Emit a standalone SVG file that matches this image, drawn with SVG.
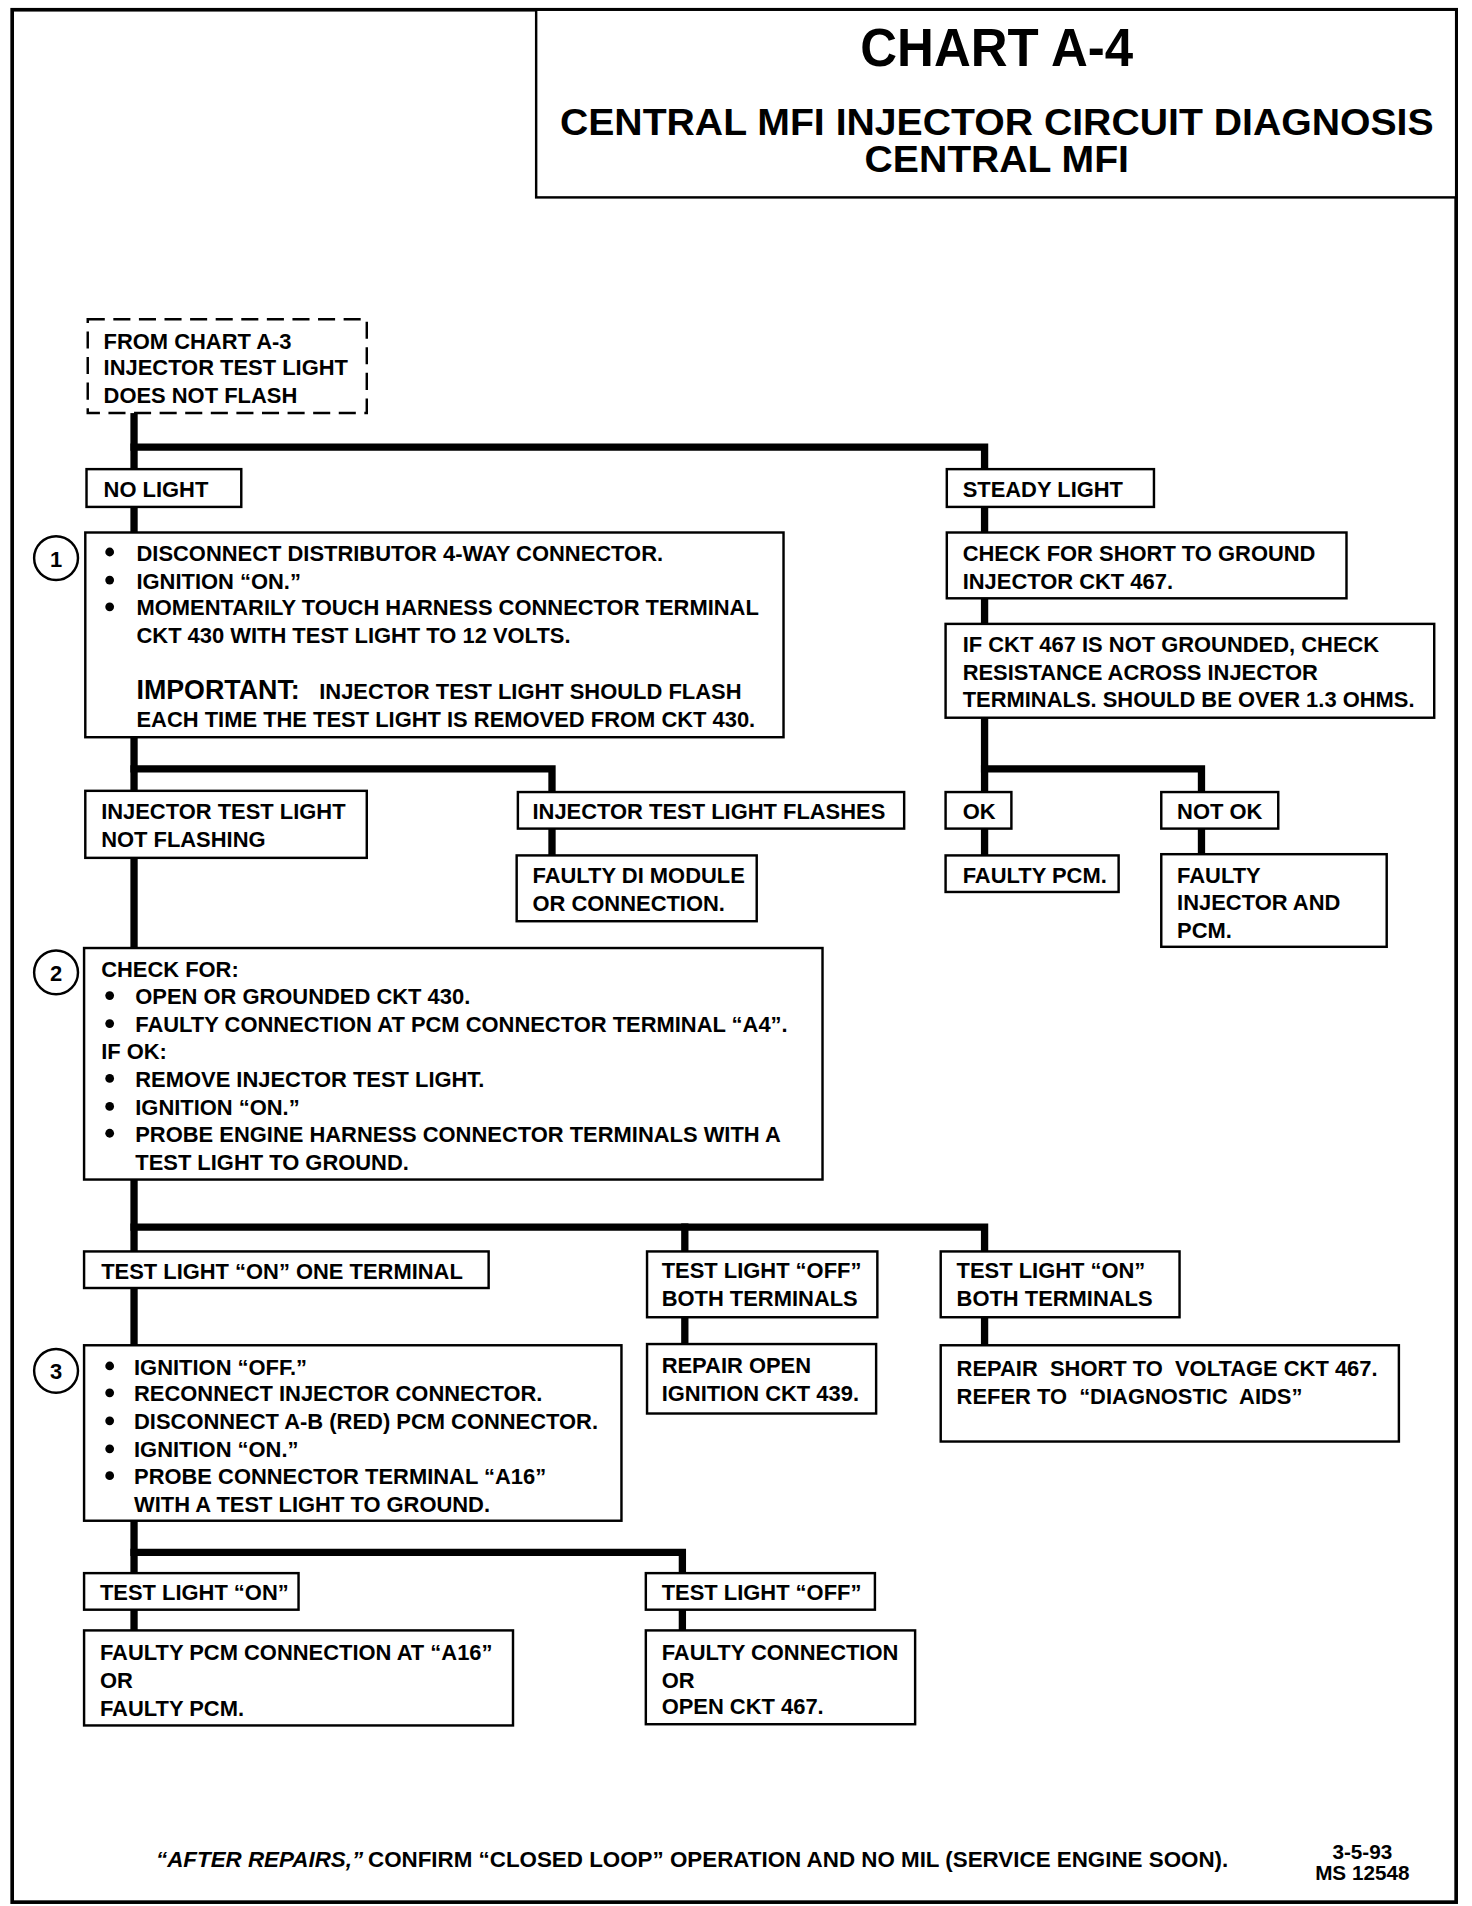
<svg xmlns="http://www.w3.org/2000/svg" width="1472" height="1906" viewBox="0 0 1472 1906">
<style>
.frame{fill:none;stroke:#000;stroke-width:3}
.b{fill:#fff;stroke:#000;stroke-width:2}
.d{fill:#fff;stroke:#000;stroke-width:2;stroke-dasharray:14 7}
.c{fill:none;stroke:#000;stroke-width:6;stroke-linecap:square;stroke-linejoin:miter}
.t{font-family:"Liberation Sans",Arial,Helvetica,sans-serif;font-weight:bold;font-size:18px;fill:#000}
.pre{white-space:pre}
.big{font-size:22px}
.h{font-family:"Liberation Sans",Arial,Helvetica,sans-serif;font-weight:bold;fill:#000;text-anchor:middle}
.bul{fill:#000}
.num{fill:#fff;stroke:#000;stroke-width:2}
</style>
<rect width="1472" height="1906" fill="#fff"/>
<g transform="scale(1.21854)">
<rect class="frame" x="10" y="8" width="1185" height="1553"/>
<g id="title">
<rect class="b" x="440" y="8" width="755" height="154"/>
<text class="h" x="818" y="54" font-size="44" textLength="224" lengthAdjust="spacingAndGlyphs">CHART A-4</text>
<text class="h" x="818" y="111" font-size="31" textLength="717" lengthAdjust="spacingAndGlyphs">CENTRAL MFI INJECTOR CIRCUIT DIAGNOSIS</text>
<text class="h" x="818" y="141" font-size="31" textLength="217" lengthAdjust="spacingAndGlyphs">CENTRAL MFI</text>
</g>
<g id="connectors">
<path class="c" d="M110,339 V1338"/>
<path class="c" d="M110,367 H808 V702"/>
<path class="c" d="M110,631 H453 V702"/>
<path class="c" d="M808,631 H986 V701"/>
<path class="c" d="M110,1007 H808 V1104"/>
<path class="c" d="M562,1007 V1103"/>
<path class="c" d="M110,1274 H560 V1338"/>
</g>
<g id="start">
<rect class="d" x="72" y="262" width="229" height="77"/>
<text class="t" x="85" y="286">FROM CHART A-3</text>
<text class="t" x="85" y="308">INJECTOR TEST LIGHT</text>
<text class="t" x="85" y="331">DOES NOT FLASH</text>
</g>
<g id="no-light">
<rect class="b" x="71" y="385" width="127" height="31"/>
<text class="t" x="85" y="408">NO LIGHT</text>
</g>
<g id="steady-light">
<rect class="b" x="777" y="385" width="170" height="31"/>
<text class="t" x="790" y="408">STEADY LIGHT</text>
</g>
<g id="step1">
<rect class="b" x="70" y="437" width="573" height="168"/>
<circle class="num" cx="46" cy="458" r="18"/>
<text class="h" x="46" y="465" font-size="18">1</text>
<circle class="bul" cx="90" cy="453" r="3.6"/>
<circle class="bul" cx="90" cy="476" r="3.6"/>
<circle class="bul" cx="90" cy="498" r="3.6"/>
<text class="t" x="112" y="460">DISCONNECT DISTRIBUTOR 4-WAY CONNECTOR.</text>
<text class="t" x="112" y="483">IGNITION “ON.”</text>
<text class="t" x="112" y="505">MOMENTARILY TOUCH HARNESS CONNECTOR TERMINAL</text>
<text class="t" x="112" y="528">CKT 430 WITH TEST LIGHT TO 12 VOLTS.</text>
<text class="t" x="112" y="574"><tspan class="big">IMPORTANT:</tspan><tspan x="262">INJECTOR TEST LIGHT SHOULD FLASH</tspan></text>
<text class="t" x="112" y="597">EACH TIME THE TEST LIGHT IS REMOVED FROM CKT 430.</text>
</g>
<g id="check-short">
<rect class="b" x="777" y="437" width="328" height="54"/>
<text class="t" x="790" y="460">CHECK FOR SHORT TO GROUND</text>
<text class="t" x="790" y="483">INJECTOR CKT 467.</text>
</g>
<g id="check-resistance">
<rect class="b" x="776" y="512" width="401" height="77"/>
<text class="t" x="790" y="535">IF CKT 467 IS NOT GROUNDED, CHECK</text>
<text class="t" x="790" y="558">RESISTANCE ACROSS INJECTOR</text>
<text class="t" x="790" y="580">TERMINALS. SHOULD BE OVER 1.3 OHMS.</text>
</g>
<g id="not-flashing">
<rect class="b" x="70" y="649" width="231" height="55"/>
<text class="t" x="83" y="672">INJECTOR TEST LIGHT</text>
<text class="t" x="83" y="695">NOT FLASHING</text>
</g>
<g id="flashes">
<rect class="b" x="425" y="650" width="317" height="30"/>
<text class="t" x="437" y="672">INJECTOR TEST LIGHT FLASHES</text>
</g>
<g id="faulty-di">
<rect class="b" x="424" y="702" width="197" height="54"/>
<text class="t" x="437" y="725">FAULTY DI MODULE</text>
<text class="t" x="437" y="748">OR CONNECTION.</text>
</g>
<g id="ok">
<rect class="b" x="776" y="650" width="54" height="30"/>
<text class="t" x="790" y="672">OK</text>
</g>
<g id="not-ok">
<rect class="b" x="953" y="650" width="96" height="30"/>
<text class="t" x="966" y="672">NOT OK</text>
</g>
<g id="faulty-pcm">
<rect class="b" x="776" y="702" width="142" height="30"/>
<text class="t" x="790" y="725">FAULTY PCM.</text>
</g>
<g id="faulty-injector">
<rect class="b" x="953" y="701" width="185" height="76"/>
<text class="t" x="966" y="725">FAULTY</text>
<text class="t" x="966" y="747">INJECTOR AND</text>
<text class="t" x="966" y="770">PCM.</text>
</g>
<g id="step2">
<rect class="b" x="69" y="778" width="606" height="190"/>
<circle class="num" cx="46" cy="798" r="18"/>
<text class="h" x="46" y="805" font-size="18">2</text>
<text class="t" x="83" y="802">CHECK FOR:</text>
<circle class="bul" cx="90" cy="817" r="3.6"/>
<text class="t" x="111" y="824">OPEN OR GROUNDED CKT 430.</text>
<circle class="bul" cx="90" cy="840" r="3.6"/>
<text class="t" x="111" y="847">FAULTY CONNECTION AT PCM CONNECTOR TERMINAL “A4”.</text>
<text class="t" x="83" y="869">IF OK:</text>
<circle class="bul" cx="90" cy="885" r="3.6"/>
<text class="t" x="111" y="892">REMOVE INJECTOR TEST LIGHT.</text>
<circle class="bul" cx="90" cy="908" r="3.6"/>
<text class="t" x="111" y="915">IGNITION “ON.”</text>
<circle class="bul" cx="90" cy="930" r="3.6"/>
<text class="t" x="111" y="937">PROBE ENGINE HARNESS CONNECTOR TERMINALS WITH A</text>
<text class="t" x="111" y="960">TEST LIGHT TO GROUND.</text>
</g>
<g id="on-one">
<rect class="b" x="69" y="1027" width="332" height="30"/>
<text class="t" x="83" y="1050">TEST LIGHT “ON” ONE TERMINAL</text>
</g>
<g id="off-both">
<rect class="b" x="531" y="1027" width="189" height="54"/>
<text class="t" x="543" y="1049">TEST LIGHT “OFF”</text>
<text class="t" x="543" y="1072">BOTH TERMINALS</text>
</g>
<g id="on-both">
<rect class="b" x="772" y="1027" width="196" height="54"/>
<text class="t" x="785" y="1049">TEST LIGHT “ON”</text>
<text class="t" x="785" y="1072">BOTH TERMINALS</text>
</g>
<g id="repair-open">
<rect class="b" x="531" y="1103" width="188" height="57"/>
<text class="t" x="543" y="1127">REPAIR OPEN</text>
<text class="t" x="543" y="1150">IGNITION CKT 439.</text>
</g>
<g id="repair-short">
<rect class="b" x="772" y="1104" width="376" height="79"/>
<text class="t pre" x="785" y="1129">REPAIR  SHORT TO  VOLTAGE CKT 467.</text>
<text class="t pre" x="785" y="1152">REFER TO  “DIAGNOSTIC  AIDS”</text>
</g>
<g id="step3">
<rect class="b" x="69" y="1104" width="441" height="144"/>
<circle class="num" cx="46" cy="1125" r="18"/>
<text class="h" x="46" y="1132" font-size="18">3</text>
<circle class="bul" cx="90" cy="1121" r="3.6"/>
<text class="t" x="110" y="1128">IGNITION “OFF.”</text>
<circle class="bul" cx="90" cy="1143" r="3.6"/>
<text class="t" x="110" y="1150">RECONNECT INJECTOR CONNECTOR.</text>
<circle class="bul" cx="90" cy="1166" r="3.6"/>
<text class="t" x="110" y="1173">DISCONNECT A-B (RED) PCM CONNECTOR.</text>
<circle class="bul" cx="90" cy="1189" r="3.6"/>
<text class="t" x="110" y="1196">IGNITION “ON.”</text>
<circle class="bul" cx="90" cy="1211" r="3.6"/>
<text class="t" x="110" y="1218">PROBE CONNECTOR TERMINAL “A16”</text>
<text class="t" x="110" y="1241">WITH A TEST LIGHT TO GROUND.</text>
</g>
<g id="light-on">
<rect class="b" x="69" y="1291" width="176" height="30"/>
<text class="t" x="82" y="1313">TEST LIGHT “ON”</text>
</g>
<g id="light-off">
<rect class="b" x="530" y="1291" width="188" height="30"/>
<text class="t" x="543" y="1313">TEST LIGHT “OFF”</text>
</g>
<g id="faulty-pcm-conn">
<rect class="b" x="69" y="1338" width="352" height="78"/>
<text class="t" x="82" y="1362">FAULTY PCM CONNECTION AT “A16”</text>
<text class="t" x="82" y="1385">OR</text>
<text class="t" x="82" y="1408">FAULTY PCM.</text>
</g>
<g id="faulty-conn">
<rect class="b" x="530" y="1338" width="221" height="77"/>
<text class="t" x="543" y="1362">FAULTY CONNECTION</text>
<text class="t" x="543" y="1385">OR</text>
<text class="t" x="543" y="1407">OPEN CKT 467.</text>
</g>
<g id="footer">
<text class="t" x="128" y="1532" font-style="italic" textLength="170" lengthAdjust="spacingAndGlyphs">“AFTER REPAIRS,”</text>
<text class="t" x="302" y="1532" textLength="706" lengthAdjust="spacingAndGlyphs">CONFIRM “CLOSED LOOP” OPERATION AND NO MIL (SERVICE ENGINE SOON).</text>
<text class="h" x="1118" y="1526" font-size="17">3-5-93</text>
<text class="h" x="1118" y="1543" font-size="17">MS 12548</text>
</g>
</g>
</svg>
